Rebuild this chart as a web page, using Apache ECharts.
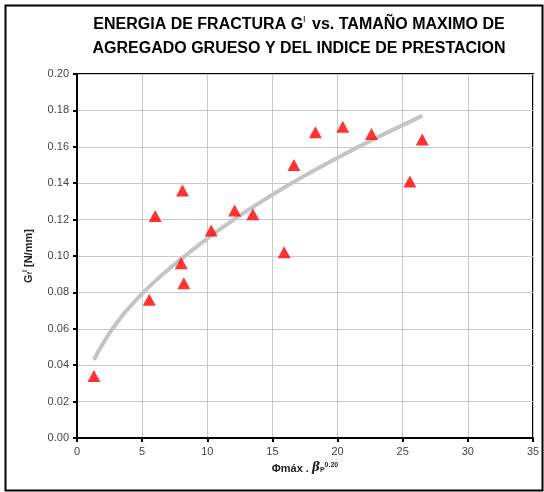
<!DOCTYPE html>
<html><head><meta charset="utf-8">
<script src="https://cdn.jsdelivr.net/npm/echarts@6/dist/echarts.min.js"></script>
<style>html,body{margin:0;padding:0;background:#fff}#c{width:544px;height:492px}</style>
</head><body><div id="c"></div>
<script>
const xTicks = [0, 5, 10, 15, 20, 25, 30, 35];
const yTicks = [0, 0.02, 0.04, 0.06, 0.08, 0.10, 0.12, 0.14, 0.16, 0.18, 0.20];
const pointsX = [1.3, 5.55, 6.0, 8.1, 8.0, 8.2, 10.3, 12.1, 13.5, 15.9, 16.65, 18.3, 20.4, 22.6, 25.55, 26.5];
const pointsY = [0.034, 0.076, 0.122, 0.136, 0.096, 0.085, 0.114, 0.125, 0.123, 0.102, 0.150, 0.168, 0.171, 0.167, 0.141, 0.164];
const trendX = [1.3, 1.6, 2, 2.5, 3, 3.5, 4, 5, 6, 7, 8, 10, 12, 14, 16, 18, 20, 22, 24, 26.5];
const trendY = [0.0429, 0.0470, 0.0520, 0.0577, 0.0628, 0.0674, 0.0716, 0.0793, 0.0862, 0.0925, 0.0984, 0.1096, 0.1198, 0.1292, 0.1380, 0.1462, 0.1540, 0.1614, 0.1685, 0.1770];

const chart = echarts.init(document.getElementById('c'), null, {renderer: 'canvas'});
const F = 'Liberation Sans, Arial, sans-serif';
const nameRich = {
  b: {fontFamily: F, fontSize: 11, fontWeight: 'bold', color: '#222', verticalAlign: 'bottom', lineHeight: 16},
  g: {fontFamily: 'DejaVu Serif, serif', fontSize: 12, fontStyle: 'italic', fontWeight: 'bold', color: '#222', verticalAlign: 'bottom', lineHeight: 16},
  sb: {fontFamily: F, fontSize: 7, fontWeight: 'bold', color: '#222', verticalAlign: 'bottom', lineHeight: 8},
  sp: {fontFamily: F, fontSize: 7, fontWeight: 'bold', color: '#222', verticalAlign: 'bottom', lineHeight: 16, padding: [0, 0, 5, 0]}
};
chart.setOption({
  animation: false,
  backgroundColor: '#fff',
  graphic: [{
    type: 'rect', left: 3, top: 3, shape: {x: 0, y: 0, width: 537, height: 485},
    style: {fill: 'none', stroke: '#000', lineWidth: 2}, z: 0
  }, {
    type: 'text', x: 299, y: 9, z: 10,
    style: {
      text: '{t|ENERGIA DE FRACTURA G}{s|I}{t| vs. TAMAÑO MAXIMO DE}\n{t|AGREGADO GRUESO Y DEL INDICE DE PRESTACION}',
      rich: {
        t: {fontFamily: F, fontSize: 16, fontWeight: 'bold', fill: '#000', lineHeight: 24, verticalAlign: 'bottom'},
        s: {fontFamily: F, fontSize: 9, fontWeight: 'normal', fill: '#000', lineHeight: 10, verticalAlign: 'bottom', padding: [0, 2, 9, 0]}
      },
      align: 'center'
    }
  }],
  grid: {left: 77, right: 11, top: 74, bottom: 54, show: true, borderColor: '#000', borderWidth: 2, backgroundColor: 'transparent'},
  xAxis: {
    type: 'value', min: 0, max: 35, interval: 5,
    axisLine: {show: true, onZero: false, lineStyle: {color: '#000', width: 2}},
    axisTick: {show: true, length: 4, lineStyle: {color: '#000', width: 2}},
    axisLabel: {color: '#444', fontFamily: F, fontSize: 11, margin: 8, formatter: v => xTicks.includes(v) ? String(v) : ''},
    splitLine: {show: true, lineStyle: {color: '#c8c8c8', width: 1}},
    name: '{b|Φmáx . }{g|β}{sb|P}{sp|0.20}',
    nameLocation: 'middle', nameGap: 20,
    nameTextStyle: {rich: nameRich}
  },
  yAxis: {
    type: 'value', min: 0, max: 0.2, interval: 0.02,
    axisLine: {show: true, onZero: false, lineStyle: {color: '#000', width: 2}},
    axisTick: {show: true, length: 4, lineStyle: {color: '#000', width: 2}},
    axisLabel: {color: '#444', fontFamily: F, fontSize: 11, margin: 8, formatter: v => v.toFixed(2)},
    splitLine: {show: true, lineStyle: {color: '#c8c8c8', width: 1}},
    name: '{b|G}{sb|f}{sp|I}{b| [N/mm]}',
    nameLocation: 'middle', nameGap: 43, nameRotate: 90,
    nameTextStyle: {rich: nameRich}
  },
  series: [{
    type: 'line', data: trendX.map((x, i) => [x, trendY[i]]), smooth: 0.5,
    showSymbol: false, lineStyle: {color: '#c4c4c4', width: 4}, z: 2
  }, {
    type: 'scatter', data: pointsX.map((x, i) => [x, pointsY[i]]),
    symbol: 'triangle', symbolSize: [13, 12], itemStyle: {color: '#ff0000'}, z: 3
  }]
});
</script></body></html>
